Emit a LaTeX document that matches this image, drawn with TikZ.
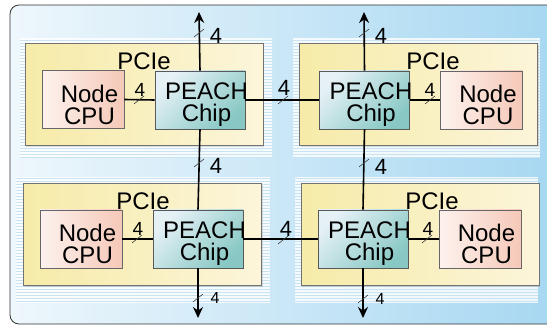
\documentclass[tikz,border=0pt]{standalone}
\usepackage{fontspec}
\setmainfont{Liberation Sans}
\usepackage{tikz}
\usetikzlibrary{arrows.meta,shadows,patterns}
\definecolor{bgleft}{HTML}{EEF7FC}
\definecolor{bgright}{HTML}{A4D6F1}
\definecolor{trayline}{HTML}{C9E3F1}
\definecolor{cardleft}{HTML}{F6EBA8}
\definecolor{cardright}{HTML}{FCF5DA}
\definecolor{cpuleft}{HTML}{FDF2EE}
\definecolor{cpuright}{HTML}{F5C8B8}
\definecolor{chipleft}{HTML}{E6F1F6}
\definecolor{chipright}{HTML}{88C8C4}
\tikzset{
  tray/.style={fill=white, fill opacity=0.8},
  traylines/.style={pattern=horizontal lines, pattern color=trayline},
  pcie/.style={draw=black!55, line width=0.6pt, left color=cardleft, right color=cardright,
    minimum width=238pt, minimum height=102pt, drop shadow={shadow xshift=1pt, shadow yshift=-2pt, opacity=0.25}},
  cpu/.style={draw=black!60, line width=0.6pt, left color=cpuleft, right color=cpuright,
    minimum width=82pt, minimum height=58pt},
  chip/.style={draw=black!65, line width=0.6pt, top color=chipleft, bottom color=chipright, shading angle=45,
    minimum width=90pt, minimum height=58pt},
  boxtxt/.style={align=center, inner sep=0pt, font=\fontsize{24}{22}\selectfont},
  cardtxt/.style={anchor=base, font=\fontsize{24}{24}\selectfont},
  link/.style={line width=1.6pt},
  uplink/.style={link, -{Stealth[length=11pt,width=10pt]}},
  lbl/.style={font=\fontsize{22}{22}\selectfont, inner sep=0pt},
  lblmid/.style={font=\fontsize{19}{19}\selectfont, inner sep=0pt},
  lblsmall/.style={font=\fontsize{16}{16}\selectfont, inner sep=0pt},
  slash/.style={line width=0.6pt, black!75}
}
\begin{document}
\begin{tikzpicture}[x=1pt,y=-1pt]
  \useasboundingbox (0,0) rectangle (547,326);
  \begin{scope}
    \clip (0,0) rectangle (547,326);
    \draw[black!80, line width=0.8pt, rounded corners=9pt, left color=bgleft, right color=bgright]
      (10,5) rectangle (575,324);
  \end{scope}
  % white trays behind the cards
  \foreach \xa/\ya/\xb/\yb in {20/38/272/158,293/38/540/158,16/177/270/303,295/177/538/303}{
    \fill[tray] (\xa,\ya) rectangle (\xb,\yb);
    \fill[traylines] (\xa,\ya) rectangle (\xb,\yb);
  }
  % cards
  \node[pcie] (cardA) at (144,94.5) {};
  \node[pcie] (cardB) at (418.5,94.5) {};
  \node[pcie] (cardC) at (142.5,234.5) {};
  \node[pcie] (cardD) at (420,234.5) {};
  \node[cardtxt] (pcieA) at (144,70) {PCIe};
  \node[cardtxt] (pcieB) at (433,70) {PCIe};
  \node[cardtxt] (pcieC) at (143,210) {PCIe};
  \node[cardtxt] (pcieD) at (432,210) {PCIe};
  % nodes and chips
  \node[cpu] (cpuA) at (83,99.5) {};
  \node[chip] (chipA) at (200,100) {};
  \node[chip] (chipB) at (364.5,100) {};
  \node[cpu] (cpuB) at (481.5,100) {};
  \node[cpu] (cpuC) at (81,239) {};
  \node[chip] (chipC) at (198,239) {};
  \node[chip] (chipD) at (363,239) {};
  \node[cpu] (cpuD) at (480,239) {};
  \foreach \b in {cpuA,cpuB,cpuC,cpuD}
    \node[boxtxt] (\b txt) at ([shift={(6.5,5)}]\b.center) {Node\\CPU};
  \foreach \b in {chipA,chipB,chipC,chipD}
    \node[boxtxt] (\b txt) at ([shift={(6.5,5)}]\b.center) {PEACH\\Chip};
  \coordinate (upA) at (199,12);
  \coordinate (upB) at (364,12);
  \coordinate (downC) at (198,318);
  \coordinate (downD) at (363,318);
  % links
  \draw[link] (cpuA.east) -- (chipA.west);
  \draw[link] (chipB.east) -- (cpuB.west);
  \draw[link] (cpuC.east) -- (chipC.west);
  \draw[link] (chipD.east) -- (cpuD.west);
  \draw[link] (chipA.east) -- (chipB.west);
  \draw[link] (chipC.east) -- (chipD.west);
  \draw[link] (chipA.south) -- (chipC.north);
  \draw[link] (chipB.south) -- (chipD.north);
  \draw[uplink] (chipA.north) -- (upA);
  \draw[uplink] (chipB.north) -- (upB);
  \draw[uplink] (chipC.south) -- (downC);
  \draw[uplink] (chipD.south) -- (downD);
  % lane marks
  \foreach \x/\y in {199/33,364/33,199/163,364/163,198/298,363/299,283/100,283/240,139/100,430/100,137/239,427/239}
    \draw[slash] (\x,\y) ++(-5,4) -- ++(10,-8);
  \foreach \n/\x/\y in {a/216/36,b/381/36,c/216/166,d/381/167,e/284/88,f/286/229}
    \node[lbl] (w\n) at (\x,\y) {4};
  \foreach \n/\x/\y in {g/140/90,h/430/90,i/138/229,j/428/229}
    \node[lblmid] (w\n) at (\x,\y) {4};
  \node[lblsmall] (wk) at (215,298) {4};
  \node[lblsmall] (wl) at (380,299) {4};
\end{tikzpicture}
\end{document}
